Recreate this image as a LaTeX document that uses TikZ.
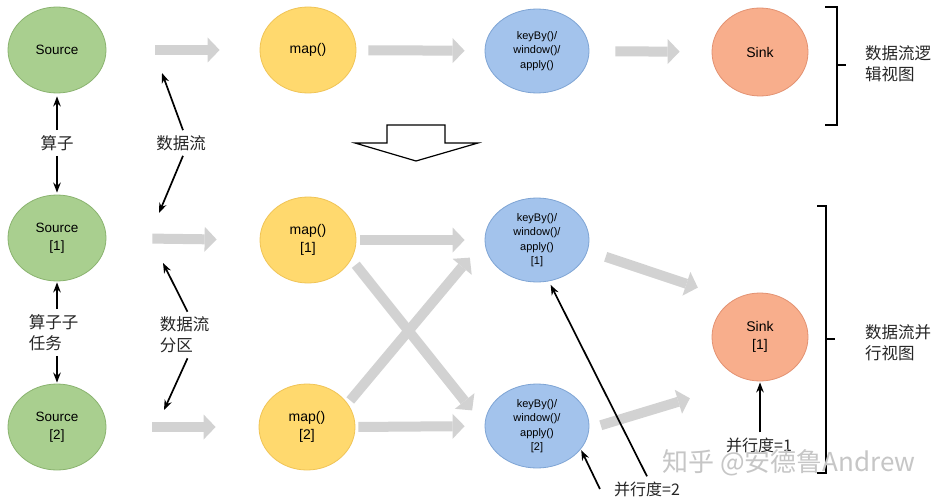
\documentclass[tikz,border=0pt]{standalone}
\usepackage{fontspec}
\setmainfont{Liberation Sans}
\newfontfamily\cjk{Noto Sans CJK SC}
\usetikzlibrary{shapes.geometric,arrows.meta}
\definecolor{srcfill}{HTML}{A9CF8F}
\definecolor{srcdraw}{HTML}{8AB36F}
\definecolor{mapfill}{HTML}{FFD96E}
\definecolor{mapdraw}{HTML}{F0C456}
\definecolor{keyfill}{HTML}{A3C3EC}
\definecolor{keydraw}{HTML}{7EA4D4}
\definecolor{sinkfill}{HTML}{F8AE8C}
\definecolor{sinkdraw}{HTML}{E39272}
\definecolor{flowgray}{HTML}{D2D2D2}
\begin{document}
\begin{tikzpicture}[x=1pt,y=-1pt,
  ell/.style={ellipse, line width=0.8pt, inner sep=0pt, align=center, text=black},
  srcn/.style={ell, draw=srcdraw, fill=srcfill, minimum width=98pt, minimum height=86pt, font=\fontsize{13.5}{18.5}\selectfont},
  mapn/.style={ell, draw=mapdraw, fill=mapfill, minimum width=96pt, minimum height=86pt, font=\fontsize{14}{18}\selectfont},
  keyn/.style={ell, draw=keydraw, fill=keyfill, minimum width=104pt, minimum height=84pt, font=\fontsize{11}{14.5}\selectfont},
  sinkn/.style={ell, draw=sinkdraw, fill=sinkfill, minimum width=96pt, minimum height=88pt, font=\fontsize{14}{18.5}\selectfont},
  flow/.style={draw=flowgray, line width=10pt, -{Triangle[length=12pt,width=25pt,line width=0pt]}},
  pointer/.style={draw=black, line width=1.7pt, -{Stealth[length=10pt,width=7.5pt]}},
  lbl/.style={font=\cjk\fontsize{16.5}{21}\selectfont, inner sep=5pt, align=left, text=black!85},
  brace/.style={draw=black, line width=1.7pt}
]
\fill[white] (0,0) rectangle (949,500);
\useasboundingbox (0,0) rectangle (949,500);

% logical view
\node[srcn] (src) at (57,50) {Source};
\node[mapn] (map) at (308,50) {map()};
\node[keyn] (key) at (537,51) {keyBy()/\\window()/\\apply()};
\node[sinkn] (sink) at (760,52) {Sink};

\draw[flow, shorten <=49pt, shorten >=40pt] (src) -- (map);
\draw[flow, shorten <=12pt, shorten >=20pt] (map) -- (key);
\draw[flow, shorten <=26pt, shorten >=32pt] (key) -- (sink);

% parallel view
\node[srcn] (src1) at (57,238) {Source\\{[1]}};
\node[srcn] (src2) at (57,427) {Source\\{[2]}};
\node[mapn] (map1) at (308,240) {map()\\{[1]}};
\node[mapn] (map2) at (307,427) {map()\\{[2]}};
\node[keyn] (key1) at (537,240) {keyBy()/\\window()/\\apply()\\{[1]}};
\node[keyn] (key2) at (537,426) {keyBy()/\\window()/\\apply()\\{[2]}};
\node[sinkn] (sink1) at (760,337) {Sink\\{[1]}};

\draw[flow, shorten <=46pt, shorten >=43pt] (src1.east) -- (map1.west);
\draw[flow, shorten <=46pt, shorten >=43pt] (src2.east) -- (map2.west);
\draw[flow, shorten <=4pt, shorten >=20pt] (map1.east) -- (key1.west);
\draw[flow, shorten <=3pt, shorten >=20pt] (map2.east) -- (key2.west);
\draw[flow, shorten <=7pt, shorten >=20pt] (map1.-24) -- (key2.west);
\draw[flow, shorten <=4pt, shorten >=23pt] (map2.30) -- (key1.west);
\draw[flow, shorten <=19pt, shorten >=38pt] (key1.-12) -- (sink1.125);
\draw[flow, shorten <=12pt, shorten >=62pt] (key2.-3) -- (sink1.-104);

% hollow transition arrow
\draw[black, line width=1.2pt, fill=white, line join=miter]
  (387,125) -- (445,125) -- (445,143) -- (478,143) -- (416,161) -- (355,143) -- (387,143) -- cycle;

% labels
\node[lbl] (lbl1) at (57,143) {算子};
\node[lbl] (lbl2) at (181,143) {数据流};
\node[lbl] (lbl3) at (53.5,332.5) {算子子\\任务};
\node[lbl] (lbl4) at (184.5,335) {数据流\\分区};
\node[lbl, font=\cjk\fontsize{16}{20}\selectfont] (par2) at (647,489) {并行度=2};
\node[lbl, font=\cjk\fontsize{16}{20}\selectfont] (par1) at (759,445) {并行度=1};

\coordinate (p1) at (162,73);
\coordinate (p2) at (159,213);
\coordinate (p3) at (163,263);
\coordinate (p4) at (164,410);

\draw[pointer, shorten >=3pt] (lbl1.north) -- (src.south);
\draw[pointer, shorten >=2pt] (lbl1.south) -- (src1.north);
\draw[pointer] ([xshift=2pt]lbl2.north) -- (p1);
\draw[pointer] ([xshift=2pt]lbl2.south) -- (p2);
\draw[pointer, shorten >=1pt] (src1 |- lbl3.north) -- (src1.south);
\draw[pointer, shorten >=1pt] (src2 |- lbl3.south) -- (src2.north);
\draw[pointer] ([xshift=3pt]lbl4.north) -- (p3);
\draw[pointer] ([xshift=3pt]lbl4.south) -- (p4);
\draw[pointer, shorten >=4pt] (par2.north) -- (key1.-74);
\draw[pointer, shorten >=1pt] ([xshift=-9pt]par2.west) -- (key2.-28);
\draw[pointer, shorten >=1pt] (sink1 |- par1.north) -- (sink1.south);

% braces
\draw[brace] (825,7) -- (837,7) -- (837,125) -- (825,125);
\draw[brace] (837,65) -- (846,65);
\draw[brace] (817,206) -- (826,206) -- (826,473) -- (817,473);
\draw[brace] (826,339) -- (835,339);
\node[lbl, anchor=west] (t1) at (860,63.5) {数据流逻\\辑视图};
\node[lbl, anchor=west] (t2) at (860,343) {数据流并\\行视图};

% watermark
\node[font=\cjk\fontsize{26}{28}\selectfont, text=gray!45, inner sep=0pt] (wm) at (789,463) {知乎\ @安德鲁Andrew};
\end{tikzpicture}
\end{document}
